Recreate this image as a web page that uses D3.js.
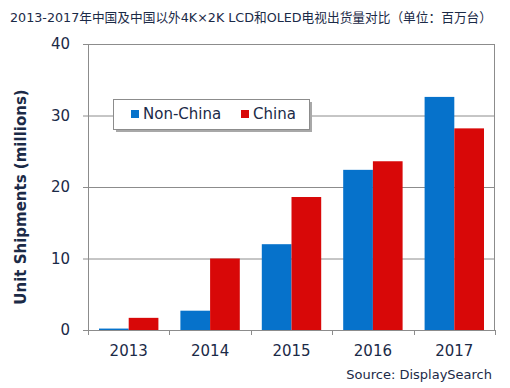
<!DOCTYPE html>
<html>
<head>
<meta charset="utf-8">
<script src="https://cdn.jsdelivr.net/npm/d3@7"></script>
<style>
  body { margin: 0; background: #fff; }
  text { font-family: "DejaVu Sans", Verdana, "Noto Sans CJK SC", sans-serif; fill: #1b2a47; }
</style>
</head>
<body>
<svg class="chart"></svg>
<script>
const years = ['2013', '2014', '2015', '2016', '2017']
const seriesNames = ['Non-China', 'China']
const nonChina = [0.2, 2.7, 12.0, 22.4, 32.6]
const china = [1.7, 10.0, 18.6, 23.6, 28.2]
const yTicks = [0, 10, 20, 30, 40]
const colors = ['#0672cb', '#d80808']

const W = 510, H = 388
const margin = { top: 44, right: 15, bottom: 58, left: 88 }
const width = W - margin.left - margin.right,
      height = H - margin.top - margin.bottom

const svg = d3.select('.chart')
  .attr('width', W)
  .attr('height', H)

svg.append('text')
  .attr('x', 10)
  .attr('y', 22)
  .style('font-size', '13px')
  .attr('textLength', 482)
  .attr('lengthAdjust', 'spacingAndGlyphs')
  .text('2013-2017年中国及中国以外4K×2K LCD和OLED电视出货量对比（单位：百万台）')

const chart = svg.append('g')
  .attr('transform', `translate(${margin.left}, ${margin.top})`)

const x = d3.scaleBand()
  .domain(years)
  .range([0, width])

const x1 = d3.scaleBand()
  .domain(seriesNames)
  .range([11, x.bandwidth() - 11])

const y = d3.scaleLinear()
  .domain([0, 40])
  .range([height, 0])

// grid lines + y ticks
chart.append('g')
  .selectAll('line')
  .data(yTicks)
  .enter()
  .append('line')
  .attr('x1', -5)
  .attr('x2', width)
  .attr('y1', d => y(d) + 0.5)
  .attr('y2', d => y(d) + 0.5)
  .attr('stroke', '#8c8c8c')

chart.append('g')
  .selectAll('text')
  .data(yTicks)
  .enter()
  .append('text')
  .attr('x', -18)
  .attr('y', d => y(d))
  .attr('dy', '0.36em')
  .style('text-anchor', 'end')
  .style('font-size', '15px')
  .text(d => d)

// bars
const group = chart.selectAll('g.year')
  .data(years)
  .enter()
  .append('g')
  .attr('class', 'year')
  .attr('transform', d => `translate(${x(d)}, 0)`)

group.selectAll('rect')
  .data((d, i) => [nonChina[i], china[i]].map((v, j) => ({ name: seriesNames[j], value: v })))
  .enter()
  .append('rect')
  .attr('x', d => x1(d.name))
  .attr('y', d => y(d.value))
  .attr('width', x1.bandwidth())
  .attr('height', d => height - y(d.value))
  .attr('fill', (d, j) => colors[j])

// axes lines
chart.append('line')
  .attr('x1', 0.5).attr('x2', 0.5)
  .attr('y1', 0).attr('y2', height)
  .attr('stroke', '#8c8c8c')
chart.append('line')
  .attr('x1', width - 0.5).attr('x2', width - 0.5)
  .attr('y1', 0).attr('y2', height)
  .attr('stroke', '#8c8c8c')

const xBounds = years.map(d => x(d)).concat([width])
chart.append('g')
  .selectAll('line')
  .data(xBounds)
  .enter()
  .append('line')
  .attr('x1', d => Math.round(d) + 0.5)
  .attr('x2', d => Math.round(d) + 0.5)
  .attr('y1', height)
  .attr('y2', height + 5)
  .attr('stroke', '#8c8c8c')

chart.append('g')
  .selectAll('text')
  .data(years)
  .enter()
  .append('text')
  .attr('x', d => x(d) + x.bandwidth() / 2)
  .attr('y', height + 26)
  .style('text-anchor', 'middle')
  .style('font-size', '15px')
  .text(d => d)

// y title
svg.append('text')
  .attr('transform', 'translate(26, 197) rotate(-90)')
  .style('text-anchor', 'middle')
  .style('font-size', '15px')
  .style('font-weight', 'bold')
  .text('Unit Shipments (millions)')

// legend
const legend = svg.append('g')
  .attr('transform', 'translate(113, 99)')

legend.append('rect')
  .attr('x', 3).attr('y', 3)
  .attr('width', 196).attr('height', 30)
  .attr('fill', '#a8a8a8')
legend.append('rect')
  .attr('x', 0.5).attr('y', 0.5)
  .attr('width', 196).attr('height', 30)
  .attr('fill', '#fff')
  .attr('stroke', '#8c8c8c')

const legendX = [18, 128]
seriesNames.forEach((name, i) => {
  legend.append('rect')
    .attr('x', legendX[i])
    .attr('y', 11)
    .attr('width', 8)
    .attr('height', 8)
    .attr('fill', colors[i])
  legend.append('text')
    .attr('x', legendX[i] + 12)
    .attr('y', 15)
    .attr('dy', '0.36em')
    .style('font-size', '15px')
    .text(name)
})

svg.append('text')
  .attr('x', 492)
  .attr('y', 379)
  .style('text-anchor', 'end')
  .style('font-size', '13px')
  .text('Source: DisplaySearch')
</script>
</body>
</html>
